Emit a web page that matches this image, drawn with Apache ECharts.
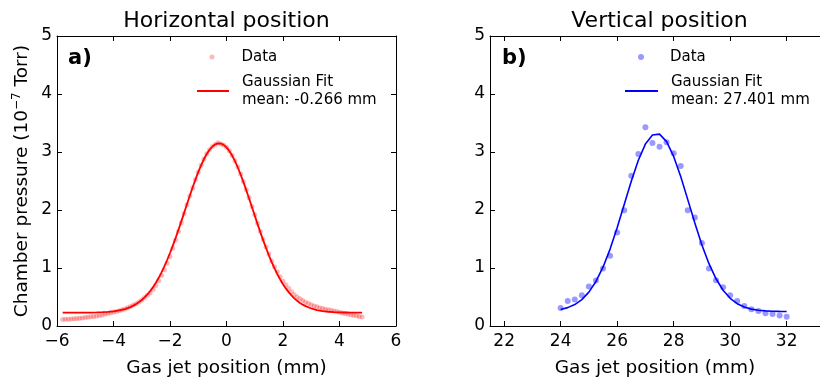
<!DOCTYPE html>
<html><head><meta charset="utf-8">
<script src="https://cdn.jsdelivr.net/npm/echarts@6/dist/echarts.min.js"></script>
<style>html,body{margin:0;padding:0;background:#fff}#c{width:820px;height:379px}</style>
</head><body><div id="c"></div>
<script>
// ---- Horizontal scan (panel a) ----
const hX = [-5.8,-5.7,-5.6,-5.5,-5.4,-5.3,-5.2,-5.1,-5.0,-4.9,-4.8,-4.7,-4.6,-4.5,-4.4,-4.3,-4.2,-4.1,-4.0,-3.9,
  -3.8,-3.7,-3.6,-3.5,-3.4,-3.3,-3.2,-3.1,-3.0,-2.9,-2.8,-2.7,-2.6,-2.5,-2.4,-2.3,-2.2,-2.1,-2.0,-1.9,
  -1.8,-1.7,-1.6,-1.5,-1.4,-1.3,-1.2,-1.1,-1.0,-0.9,-0.8,-0.7,-0.6,-0.5,-0.4,-0.3,-0.2,-0.1,0.0,0.1,
  0.2,0.3,0.4,0.5,0.6,0.7,0.8,0.9,1.0,1.1,1.2,1.3,1.4,1.5,1.6,1.7,1.8,1.9,2.0,2.1,
  2.2,2.3,2.4,2.5,2.6,2.7,2.8,2.9,3.0,3.1,3.2,3.3,3.4,3.5,3.6,3.7,3.8,3.9,4.0,4.1,
  4.2,4.3,4.4,4.5,4.6,4.7,4.8];
const hY = [0.11,0.115,0.118,0.122,0.125,0.13,0.134,0.138,0.145,0.152,0.158,0.165,0.172,0.182,0.19,0.205,0.215,0.228,0.24,0.252,
  0.265,0.28,0.295,0.315,0.335,0.36,0.385,0.415,0.45,0.49,0.53,0.575,0.63,0.70,0.78,0.87,0.97,1.08,1.20,1.34,
  1.48,1.63,1.78,1.94,2.09,2.24,2.38,2.52,2.65,2.77,2.88,2.97,3.04,3.09,3.13,3.16,3.14,3.12,3.08,3.02,
  2.94,2.85,2.74,2.62,2.49,2.35,2.21,2.06,1.92,1.77,1.63,1.49,1.36,1.24,1.12,1.02,0.93,0.85,0.77,0.71,
  0.65,0.59,0.54,0.50,0.47,0.44,0.41,0.39,0.365,0.345,0.33,0.315,0.30,0.29,0.28,0.27,0.26,0.25,0.235,0.225,
  0.215,0.205,0.195,0.185,0.175,0.165,0.155];
const hFitX = [-5.8,-5.6,-5.4,-5.2,-5.0,-4.8,-4.6,-4.4,-4.2,-4.0,-3.8,-3.6,-3.4,-3.2,
  -3.0,-2.9,-2.8,-2.7,-2.6,-2.5,-2.4,-2.3,-2.2,-2.1,-2.0,-1.9,-1.8,-1.7,-1.6,-1.5,-1.4,-1.3,-1.2,-1.1,
  -1.0,-0.9,-0.8,-0.7,-0.6,-0.5,-0.4,-0.3,-0.2,-0.1,0.0,0.1,0.2,0.3,0.4,0.5,0.6,0.7,0.8,0.9,
  1.0,1.1,1.2,1.3,1.4,1.5,1.6,1.7,1.8,1.9,2.0,2.1,2.2,2.3,2.4,2.5,2.6,2.7,2.8,
  3.0,3.2,3.4,3.6,3.8,4.0,4.2,4.4,4.6,4.8];
const hFitY = [0.23,0.23,0.23,0.23,0.231,0.232,0.234,0.238,0.244,0.253,0.268,0.292,0.326,0.377,
  0.448,0.493,0.544,0.603,0.670,0.746,0.831,0.924,1.027,1.138,1.258,1.385,1.520,1.660,1.804,1.951,2.099,2.245,2.387,2.523,
  2.652,2.770,2.875,2.965,3.039,3.095,3.132,3.149,3.146,3.122,3.079,3.017,2.938,2.843,2.733,2.612,2.480,2.342,2.198,2.051,
  1.904,1.757,1.615,1.476,1.344,1.219,1.102,0.993,0.893,0.803,0.721,0.648,0.584,0.527,0.477,0.435,0.398,0.368,0.342,
  0.302,0.275,0.257,0.246,0.239,0.235,0.233,0.231,0.230,0.230];

// ---- Vertical scan (panel b) ----
const vX = [24.0,24.25,24.5,24.75,25.0,25.25,25.5,25.75,26.0,26.25,26.5,26.75,27.0,27.25,27.5,27.75,28.0,
  28.25,28.5,28.75,29.0,29.25,29.5,29.75,30.0,30.25,30.5,30.75,31.0,31.25,31.5,31.75,32.0];
const vY = [0.31,0.43,0.455,0.53,0.68,0.785,0.99,1.21,1.61,1.995,2.59,2.965,3.425,3.155,3.09,3.17,2.98,
  2.76,1.995,1.87,1.43,0.99,0.79,0.67,0.53,0.43,0.345,0.29,0.26,0.22,0.205,0.18,0.16];
const vFitY = [0.286,0.317,0.370,0.455,0.584,0.768,1.014,1.326,1.693,2.094,2.497,2.858,3.136,3.293,3.308,3.179,2.924,
  2.576,2.179,1.775,1.398,1.074,0.814,0.617,0.478,0.385,0.326,0.291,0.271,0.260,0.255,0.252,0.251];

const hTicks = [-6,-4,-2,0,2,4,6];
const vTicks = [22,24,26,28,30,32];
const names = {
  hData: '{p1|}Data',
  hFit: '{p2|}Gaussian Fit\n{p2|}mean: -0.266 mm',
  vData: '{p3|}Data',
  vFit: '{p2|}Gaussian Fit\n{p2|}mean: 27.401 mm'
};

const FONT = 'DejaVu Sans';
const tickFont = {fontFamily: FONT, fontSize: 17, color: '#000'};
const lineStyle = {color: '#000', width: 1};

function xAx(grid, pos, o) {
  return Object.assign({
    type: 'value', gridIndex: grid, position: pos,
    axisLine: {show: true, onZero: false, lineStyle},
    axisTick: {show: true, inside: true, length: 5, lineStyle},
    splitLine: {show: false},
    axisLabel: pos === 'bottom' ? Object.assign({margin: 7, formatter: v => String(v).replace('-', '\u2212')}, tickFont) : {show: false}
  }, o);
}
function yAx(grid, pos, o) {
  return Object.assign({
    type: 'value', gridIndex: grid, position: pos, min: 0, max: 5, interval: 1,
    axisLine: {show: true, onZero: false, lineStyle},
    axisTick: {show: true, inside: true, length: 5, lineStyle},
    splitLine: {show: false},
    axisLabel: pos === 'left' ? Object.assign({margin: 5}, tickFont) : {show: false}
  }, o);
}
const xNameStyle = {fontFamily: FONT, fontSize: 18.5, color: '#000'};
const legText = {fontFamily: FONT, fontSize: 15, color: '#000', lineHeight: 18,
  rich: {p1: {width: 22}, p2: {width: 8}, p3: {width: 21}}};

const option = {
  animation: false,
  backgroundColor: '#fff',
  title: [
    {text: 'Horizontal position', left: 226.5, top: 10, textAlign: 'center', padding: 0,
     textStyle: {fontFamily: FONT, fontSize: 22, fontWeight: 'normal', color: '#000'}},
    {text: 'Vertical position', left: 659.5, top: 10, textAlign: 'center', padding: 0,
     textStyle: {fontFamily: FONT, fontSize: 22, fontWeight: 'normal', color: '#000'}},
    {text: 'a)', left: 68, top: 48, padding: 0,
     textStyle: {fontFamily: FONT, fontSize: 21, fontWeight: 'bold', color: '#000'}},
    {text: 'b)', left: 502, top: 48, padding: 0,
     textStyle: {fontFamily: FONT, fontSize: 21, fontWeight: 'bold', color: '#000'}}
  ],
  legend: [
    {data: [{name: 'hData', icon: 'circle'}], left: 209.5, top: 48, itemWidth: 5, itemHeight: 5, padding: 0, selectedMode: false,
     formatter: n => names[n], textStyle: legText},
    {data: [{name: 'hFit', icon: 'rect'}], left: 197, top: 73, itemWidth: 32, itemHeight: 2, padding: 0, selectedMode: false,
     formatter: n => names[n], textStyle: legText},
    {data: [{name: 'vData', icon: 'circle'}], left: 638, top: 48, itemWidth: 6, itemHeight: 6, padding: 0, selectedMode: false,
     formatter: n => names[n], textStyle: legText},
    {data: [{name: 'vFit', icon: 'rect'}], left: 625, top: 73, itemWidth: 33, itemHeight: 2, padding: 0, selectedMode: false,
     formatter: n => names[n], textStyle: legText}
  ],
  grid: [
    {left: 57, top: 36, width: 339, height: 290, containLabel: false, outerBoundsMode: 'none'},
    {left: 490, top: 36, width: 330, height: 290, containLabel: false, outerBoundsMode: 'none'}
  ],
  xAxis: [
    xAx(0, 'bottom', {min: -6, max: 6, interval: 2, name: 'Gas jet position (mm)', nameLocation: 'middle', nameGap: 33, nameTextStyle: xNameStyle}),
    xAx(0, 'top', {min: -6, max: 6, interval: 2}),
    xAx(1, 'bottom', {min: 21.5, max: 33.18, name: 'Gas jet position (mm)', nameLocation: 'middle', nameGap: 33,
      nameTextStyle: xNameStyle,
      axisTick: {show: true, inside: true, length: 5, lineStyle, customValues: vTicks},
      axisLabel: Object.assign({margin: 7, customValues: vTicks}, tickFont)}),
    xAx(1, 'top', {min: 21.5, max: 33.18,
      axisTick: {show: true, inside: true, length: 5, lineStyle, customValues: vTicks}})
  ],
  yAxis: [
    yAx(0, 'left', {name: 'Chamber pressure (10{sup|\u22127} Torr)', nameLocation: 'middle', nameGap: 24,
      nameTextStyle: {fontFamily: FONT, fontSize: 18.5, color: '#000', lineHeight: 22,
        rich: {sup: {fontFamily: FONT, fontSize: 12, color: '#000', verticalAlign: 'top', lineHeight: 12}}}}),
    yAx(0, 'right'),
    yAx(1, 'left'),
    yAx(1, 'right', {show: false})
  ],
  series: [
    {name: 'hData', type: 'scatter', xAxisIndex: 0, yAxisIndex: 0, symbolSize: 5,
     itemStyle: {color: 'rgba(255,0,0,0.35)'}, data: hX.map((x, i) => [x, hY[i]]), z: 2},
    {name: 'hFit', type: 'line', xAxisIndex: 0, yAxisIndex: 0, symbol: 'none', smooth: false,
     lineStyle: {color: '#ff0000', width: 1.8}, itemStyle: {color: '#ff0000'}, data: hFitX.map((x, i) => [x, hFitY[i]]), z: 3},
    {name: 'vData', type: 'scatter', xAxisIndex: 2, yAxisIndex: 2, symbolSize: 6,
     itemStyle: {color: 'rgba(0,0,255,0.5)'}, data: vX.map((x, i) => [x, vY[i]]), z: 2},
    {name: 'vFit', type: 'line', xAxisIndex: 2, yAxisIndex: 2, symbol: 'none', smooth: false,
     lineStyle: {color: '#0000ff', width: 1.6}, itemStyle: {color: '#0000ff'}, data: vX.map((x, i) => [x, vFitY[i]]), z: 3}
  ]
};
echarts.init(document.getElementById('c'), null, {renderer: 'canvas'}).setOption(option);
</script>
</body></html>
